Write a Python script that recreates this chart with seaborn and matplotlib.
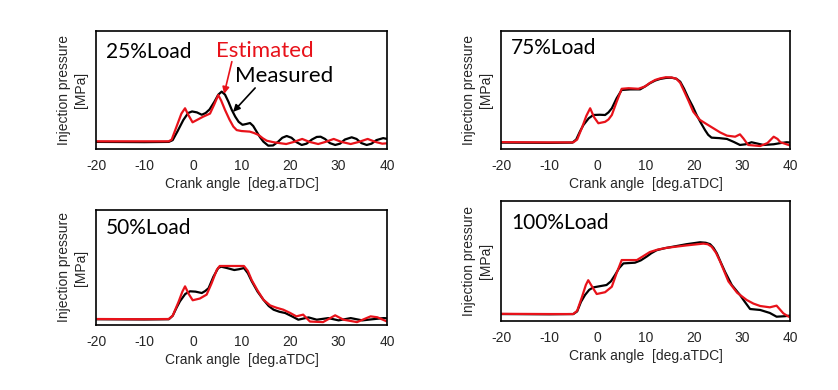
import numpy as np
import pandas as pd
import matplotlib.pyplot as plt
import seaborn as sns

sns.set_theme(style="white")
plt.rcParams["font.family"] = ["Liberation Sans", "DejaVu Sans"]
plt.rcParams["axes.unicode_minus"] = False

# crank angle [deg.aTDC] and pressure (normalised, 0-1 of plot height)
ANG_25_MEAS = [-20, -10, -5, -4.2, -3.2, -2.0, -1.0, -0.2, 0.8, 1.8, 2.6, 3.4, 4.4, 5.2, 5.9,
               6.6, 7.3, 8.0, 8.7, 9.4, 10.2, 11.0, 11.75, 12.4, 13.1, 13.8, 14.5, 15.5, 16.5,
               17.5, 18.4, 19.3, 20.3, 21.3, 22.4, 23.4, 24.5, 25.5, 26.3, 27.2, 28.2, 29.3,
               30.3, 31.3, 32.7, 33.7, 34.7, 35.8, 36.8, 37.8, 39.2, 40]
P_25_MEAS = [0.06, 0.058, 0.06, 0.075, 0.15, 0.246, 0.305, 0.318, 0.31, 0.29, 0.305, 0.335, 0.40,
             0.46, 0.486, 0.46, 0.40, 0.33, 0.274, 0.23, 0.205, 0.212, 0.22, 0.195, 0.147, 0.10,
             0.062, 0.028, 0.03, 0.06, 0.095, 0.11, 0.095, 0.058, 0.034, 0.045, 0.08, 0.102,
             0.104, 0.085, 0.05, 0.034, 0.045, 0.08, 0.099, 0.085, 0.05, 0.034, 0.045, 0.075,
             0.092, 0.085]
ANG_25_EST = [-20, -10, -5, -4.4, -3.4, -2.4, -1.65, -1.0, -0.1, 1.0, 2.1, 3.5, 4.4, 5.2, 5.8,
              6.6, 7.5, 8.3, 9.0, 10.0, 11.7, 12.6, 13.5, 14.4, 15.2, 16.5, 17.8, 19.2, 20.8,
              22.5, 24.0, 25.8, 27.3, 29.0, 30.6, 32.5, 34.2, 36.0, 37.6, 39.0, 40]
P_25_EST = [0.065, 0.065, 0.065, 0.08, 0.19, 0.30, 0.345, 0.29, 0.226, 0.25, 0.274, 0.30, 0.38,
            0.457, 0.41, 0.33, 0.25, 0.19, 0.16, 0.152, 0.147, 0.135, 0.119, 0.09, 0.07, 0.058,
            0.05, 0.042, 0.06, 0.085, 0.06, 0.042, 0.06, 0.085, 0.06, 0.042, 0.06, 0.085, 0.06,
            0.045, 0.048]

ANG_75_MEAS = [-20, -10, -5.2, -4.4, -3.6, -2.9, -1.8, -0.84, 0.5, 1.6, 2.3, 3.0, 4.0, 5.05,
               6.8, 8.86, 9.9, 10.9, 12.0, 13.0, 14.2, 15.4, 16.4, 17.2, 18.0, 18.9, 19.8, 20.6,
               21.5, 22.35, 23.0, 23.7, 25.3, 26.9, 28.3, 29.6, 30.8, 32.0, 33.3, 34.5, 36.6,
               38.0, 39.3, 40]
P_75_MEAS = [0.054, 0.052, 0.054, 0.08, 0.15, 0.203, 0.26, 0.288, 0.29, 0.288, 0.31, 0.345, 0.43,
             0.50, 0.505, 0.505, 0.53, 0.557, 0.58, 0.593, 0.602, 0.604, 0.595, 0.57, 0.51, 0.43,
             0.36, 0.288, 0.22, 0.16, 0.12, 0.096, 0.092, 0.085, 0.06, 0.034, 0.04, 0.057, 0.045,
             0.034, 0.04, 0.05, 0.057, 0.055]
ANG_75_EST = [-20, -10, -5.0, -4.2, -3.2, -2.3, -1.5, -0.7, 0.2, 1.6, 2.3, 3.0, 4.0, 5.05, 6.5,
              8.5, 9.9, 10.9, 12.0, 13.0, 14.2, 15.4, 16.4, 17.2, 18.0, 18.9, 19.9, 20.6, 21.3,
              22.7, 24.1, 25.5, 26.9, 28.6, 29.6, 30.3, 31.3, 33.8, 35.3, 36.6, 37.4, 38.0,
              39.7, 40]
P_75_EST = [0.058, 0.056, 0.056, 0.08, 0.18, 0.28, 0.345, 0.27, 0.218, 0.23, 0.25, 0.288, 0.40,
            0.51, 0.515, 0.51, 0.53, 0.56, 0.585, 0.598, 0.608, 0.606, 0.595, 0.56, 0.49, 0.41,
            0.316, 0.28, 0.246, 0.21, 0.175, 0.14, 0.113, 0.104, 0.124, 0.09, 0.034, 0.025, 0.05,
            0.104, 0.085, 0.057, 0.034, 0.03]

ANG_50_MEAS = [-20, -10, -5.0, -4.2, -3.4, -2.7, -1.6, -0.62, 0.5, 1.8, 2.5, 3.2, 4.2, 5.2, 5.8,
               7.0, 8.5, 9.5, 10.5, 11.3, 12.1, 13.3, 14.5, 15.6, 16.6, 17.8, 19.0, 20.4, 21.7,
               23.8, 25.5, 27.9, 30.0, 32.5, 34.9, 37.0, 39.3, 40]
P_50_MEAS = [0.05, 0.048, 0.05, 0.08, 0.15, 0.206, 0.27, 0.293, 0.29, 0.278, 0.295, 0.32, 0.42,
             0.496, 0.507, 0.495, 0.478, 0.485, 0.495, 0.45, 0.38, 0.29, 0.22, 0.165, 0.133,
             0.115, 0.104, 0.075, 0.046, 0.066, 0.046, 0.06, 0.04, 0.06, 0.04, 0.05, 0.06, 0.058]
ANG_50_EST = [-20, -10, -5.0, -4.2, -3.0, -2.2, -1.65, -0.9, -0.07, 1.4, 2.8, 3.8, 4.9, 5.5, 8.0,
              10.5, 11.3, 12.1, 13.3, 14.5, 15.9, 17.2, 18.6, 20.0, 21.3, 22.7, 24.1, 26.8,
              29.3, 31.0, 33.8, 36.6, 38.0, 40]
P_50_EST = [0.052, 0.05, 0.052, 0.08, 0.2, 0.29, 0.336, 0.27, 0.215, 0.23, 0.264, 0.36, 0.48,
            0.513, 0.513, 0.513, 0.47, 0.39, 0.30, 0.22, 0.17, 0.15, 0.133, 0.105, 0.075, 0.09,
            0.03, 0.025, 0.084, 0.046, 0.025, 0.075, 0.067, 0.03]

ANG_100_MEAS = [-20, -10, -5.0, -4.2, -3.4, -2.56, -1.7, -0.84, 0.5, 1.9, 2.8, 3.66, 4.5, 5.4,
                7.8, 9.0, 10.2, 11.2, 12.3, 14.0, 15.8, 18.5, 21.3, 22.5, 23.4, 24.1, 24.8,
                25.6, 26.5, 27.9, 29.6, 30.6, 31.7, 33.8, 35.8, 37.2, 38.9, 40]
P_100_MEAS = [0.058, 0.056, 0.058, 0.08, 0.16, 0.217, 0.26, 0.28, 0.29, 0.30, 0.33, 0.383, 0.44,
              0.48, 0.486, 0.505, 0.536, 0.565, 0.59, 0.607, 0.62, 0.64, 0.656, 0.652, 0.64,
              0.61, 0.564, 0.49, 0.41, 0.30, 0.217, 0.16, 0.10, 0.092, 0.067, 0.036, 0.04, 0.045]
ANG_100_EST = [-20, -10, -5.0, -4.2, -3.2, -2.4, -1.9, -1.0, -0.14, 1.6, 3.0, 4.0, 5.05, 8.2,
               9.5, 10.9, 12.5, 14.4, 18.5, 22.0, 22.9, 23.7, 24.6, 25.5, 27.2, 29.0, 31.0,
               32.4, 33.8, 35.8, 37.2, 38.6, 39.7, 40]
P_100_EST = [0.06, 0.058, 0.058, 0.085, 0.2, 0.30, 0.34, 0.28, 0.225, 0.24, 0.286, 0.40, 0.508,
             0.508, 0.54, 0.575, 0.595, 0.61, 0.63, 0.645, 0.64, 0.62, 0.57, 0.494, 0.33, 0.236,
             0.175, 0.145, 0.125, 0.114, 0.128, 0.064, 0.036, 0.035]

LOADS = ["25%Load", "75%Load", "50%Load", "100%Load"]
X_TICKS = [-20, -10, 0, 10, 20, 30, 40]

PANELS = [
    (LOADS[0], ANG_25_MEAS, P_25_MEAS, ANG_25_EST, P_25_EST, [0.1146, 0.618, 0.3473, 0.3026], 0.82),
    (LOADS[1], ANG_75_MEAS, P_75_MEAS, ANG_75_EST, P_75_EST, [0.5979, 0.618, 0.3449, 0.3026], 0.855),
    (LOADS[2], ANG_50_MEAS, P_50_MEAS, ANG_50_EST, P_50_EST, [0.1146, 0.1667, 0.3473, 0.2949], 0.843),
    (LOADS[3], ANG_100_MEAS, P_100_MEAS, ANG_100_EST, P_100_EST, [0.5979, 0.1769, 0.3449, 0.3077], 0.817),
]

RED = "#e8121a"

fig = plt.figure(figsize=(8.38, 3.90), dpi=100)

axes = []
for name, am, pm, ae, pe, rect, ty in PANELS:
    ax = fig.add_axes(rect)
    meas = pd.DataFrame({"angle": am, "p": pm})
    est = pd.DataFrame({"angle": ae, "p": pe})
    sns.lineplot(data=meas, x="angle", y="p", ax=ax, color="black", lw=1.6)
    sns.lineplot(data=est, x="angle", y="p", ax=ax, color=RED, lw=1.6)
    ax.set_xlim(-20, 40)
    ax.set_ylim(0, 1)
    ax.set_xticks(X_TICKS, [str(t) for t in X_TICKS])
    ax.set_yticks([])
    ax.tick_params(axis="x", length=0, pad=7, labelsize=10)
    ax.set_xlabel("Crank angle  [deg.aTDC]", fontsize=10, labelpad=3)
    ax.set_ylabel("Injection pressure\n[MPa]", fontsize=10, labelpad=6, linespacing=1.25)
    for s in ax.spines.values():
        s.set_color("black")
        s.set_linewidth(1.2)
    ax.text(0.034, ty, name, transform=ax.transAxes, fontsize=15, family="Lato",
            va="center", ha="left", color="black")
    axes.append(ax)

# legend-style labels with arrows on the 25% panel
ax0 = axes[0]
ax0.text(14.8, 0.83, "Estimated", color=RED, fontsize=16, family="Lato",
         ha="center", va="center")
ax0.text(18.8, 0.62, "Measured", color="black", fontsize=16, family="Lato",
         ha="center", va="center")
ax0.annotate("", xy=(6.4, 0.466), xytext=(8.0, 0.74),
             arrowprops=dict(arrowstyle="-|>", color=RED, lw=1.2, mutation_scale=10,
                             shrinkA=0, shrinkB=0))
ax0.annotate("", xy=(8.25, 0.314), xytext=(12.8, 0.517),
             arrowprops=dict(arrowstyle="-|>", color="black", lw=1.2, mutation_scale=10,
                             shrinkA=0, shrinkB=0))

fig.savefig("out.png", dpi=100)
